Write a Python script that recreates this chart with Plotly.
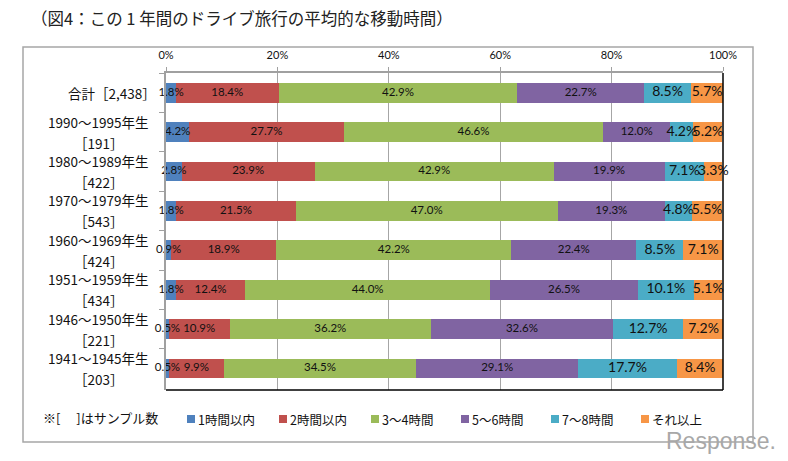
import plotly.graph_objects as go

# ---------------- data ----------------
group_names = ["合計", "1990～1995年生", "1980～1989年生", "1970～1979年生",
               "1960～1969年生", "1951～1959年生", "1946～1950年生", "1941～1945年生"]
sample_sizes = ["2,438", "191", "422", "543", "424", "434", "221", "203"]

series_names = ["1時間以内", "2時間以内", "3～4時間", "5～6時間", "7～8時間", "それ以上"]
within_1h = [1.8, 4.2, 2.8, 1.8, 0.9, 1.8, 0.5, 0.5]
within_2h = [18.4, 27.7, 23.9, 21.5, 18.9, 12.4, 10.9, 9.9]
h3_4 = [42.9, 46.6, 42.9, 47.0, 42.2, 44.0, 36.2, 34.5]
h5_6 = [22.7, 12.0, 19.9, 19.3, 22.4, 26.5, 32.6, 29.1]
h7_8 = [8.5, 4.2, 7.1, 4.8, 8.5, 10.1, 12.7, 17.7]
more = [5.7, 5.2, 3.3, 5.5, 7.1, 5.1, 7.2, 8.4]

x_ticks = [0, 20, 40, 60, 80, 100]
x_tick_labels = ["0%", "20%", "40%", "60%", "80%", "100%"]

series_values = [within_1h, within_2h, h3_4, h5_6, h7_8, more]
colors = ["#4F81BD", "#C0504D", "#9BBB59", "#8064A2", "#4BACC6", "#F79646"]
label_sizes = [11.5, 11.5, 11.5, 11.5, 14, 14]

categories = [f"{g}［{n}］" for g, n in zip(group_names, sample_sizes)]

# ---------------- layout helpers ----------------
W, H = 788, 461
PL, PR, PT, PB = 166, 723, 73, 390  # plot-area pixel box


def fx(px):
    return (px - PL) / (PR - PL)


def fy(py):
    return (PB - py) / (PB - PT)


JP = "Noto Sans CJK JP"
NUM = "Lato, Noto Sans CJK JP"

fig = go.Figure()
# stacked bars
for name, vals, col in zip(series_names, series_values, colors):
    fig.add_trace(go.Bar(
        y=categories, x=vals, name=name, orientation="h",
        marker=dict(color=col, line=dict(width=0)),
        showlegend=False, hoverinfo="skip",
    ))

# data labels on top of every bar (centered on each segment)
cum = [0.0] * len(categories)
for name, vals, ls in zip(series_names, series_values, label_sizes):
    mids = [c + v / 2 for c, v in zip(cum, vals)]
    cum = [c + v for c, v in zip(cum, vals)]
    fig.add_trace(go.Scatter(
        x=mids, y=categories, mode="text",
        text=[f"{v:.1f}%" for v in vals], textposition="middle center",
        textfont=dict(family=NUM, size=ls, color="#111111"),
        cliponaxis=False, showlegend=False, hoverinfo="skip", name=name,
    ))

annotations = []
# title
annotations.append(dict(
    text="（図4：この 1 年間のドライブ旅行の平均的な移動時間）",
    xref="paper", yref="paper", x=fx(29), y=fy(18), xanchor="left", yanchor="middle",
    showarrow=False, font=dict(family=JP, size=16.5, color="#222222")))

# category labels
for i, (cat, g, n) in enumerate(zip(categories, group_names, sample_sizes)):
    if i == 0:
        annotations.append(dict(
            text=f"{g}［{n}］", xref="paper", yref="y", x=fx(157), y=cat,
            xanchor="right", yanchor="middle", showarrow=False, borderpad=0,
            font=dict(family=JP, size=13.5, color="#111111")))
    else:
        annotations.append(dict(
            text=g, xref="paper", yref="y", x=fx(98), y=cat, yshift=10.5,
            xanchor="center", yanchor="middle", showarrow=False, borderpad=0,
            font=dict(family=JP, size=13.5, color="#111111")))
        annotations.append(dict(
            text=f"［{n}］", xref="paper", yref="y", x=fx(98), y=cat, yshift=-10.5,
            xanchor="center", yanchor="middle", showarrow=False, borderpad=0,
            font=dict(family=JP, size=13.5, color="#111111")))

# note
annotations.append(dict(
    text="※[　 ]はサンプル数", xref="paper", yref="paper", x=fx(41), y=fy(417),
    xanchor="left", yanchor="middle", showarrow=False,
    font=dict(family=JP, size=13, color="#111111")))

# manual legend
legend_x = [187, 279, 371, 461, 551, 641]
shapes = []
for lx, name, col in zip(legend_x, series_names, colors):
    shapes.append(dict(type="rect", xref="paper", yref="paper",
                       x0=fx(lx), x1=fx(lx + 8), y0=fy(423), y1=fy(415),
                       fillcolor=col, line=dict(width=0)))
    annotations.append(dict(
        text=name, xref="paper", yref="paper", x=fx(lx + 9), y=fy(419),
        xanchor="left", yanchor="middle", showarrow=False,
        font=dict(family=JP, size=12.5, color="#111111")))

# watermark
annotations.append(dict(
    text="Response.", xref="paper", yref="paper", x=fx(721), y=fy(441),
    xanchor="center", yanchor="middle", showarrow=False,
    font=dict(family="Liberation Sans", size=23, color="#a8a8a8")))

# outer frame
shapes.append(dict(type="rect", xref="paper", yref="paper",
                   x0=fx(23), x1=fx(753), y0=fy(442), y1=fy(47),
                   line=dict(color="#a6a6a6", width=1.5), layer="below"))
# black bottom / right border of plot area
shapes.append(dict(type="line", xref="paper", yref="paper", x0=0, x1=1, y0=0, y1=0,
                   line=dict(color="#000000", width=1.5), layer="above"))
shapes.append(dict(type="line", xref="paper", yref="paper", x0=1, x1=1, y0=0, y1=1,
                   line=dict(color="#000000", width=1.5), layer="above"))

fig.update_layout(
    width=W, height=H,
    margin=dict(l=PL, r=W - PR, t=PT, b=H - PB, pad=0),
    barmode="stack", bargap=0.5,
    paper_bgcolor="white", plot_bgcolor="white",
    annotations=annotations, shapes=shapes,
    xaxis=dict(side="top", range=[0, 100], tickvals=x_ticks, ticktext=x_tick_labels,
               showgrid=True, gridcolor="#a6a6a6", gridwidth=1,
               showline=True, linecolor="#a0a0a0", linewidth=1.5,
               ticks="outside", ticklen=4, tickcolor="#a0a0a0",
               ticklabelstandoff=4, zeroline=False,
               tickfont=dict(family=NUM, size=11, color="#111111")),
    yaxis=dict(type="category", categoryorder="array", categoryarray=categories,
               autorange="reversed", showticklabels=False,
               showline=True, linecolor="#a0a0a0", linewidth=1.5,
               ticks="outside", ticklen=5, tickcolor="#a0a0a0", tickson="boundaries",
               showgrid=False, zeroline=False),
)

fig.write_html("out.html", config={"displayModeBar": False},
               post_script="document.body.style.margin='0';")
